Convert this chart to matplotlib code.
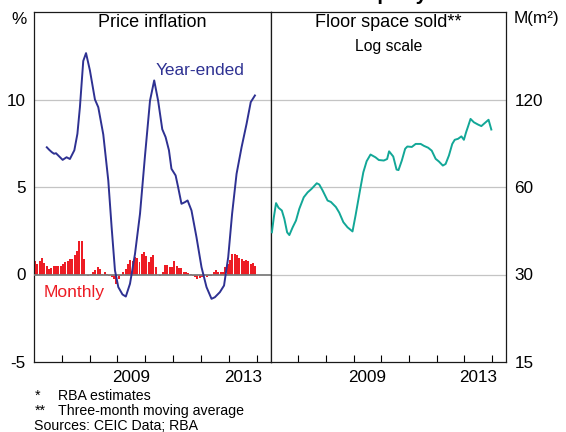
import numpy as np
import matplotlib
matplotlib.use('Agg')
import matplotlib.pyplot as plt
from matplotlib.ticker import FixedLocator, FixedFormatter, NullFormatter, NullLocator

plt.rcParams['font.family'] = ['Liberation Sans', 'DejaVu Sans']

NAVY = '#2e3192'
RED = '#ed1c24'
TEAL = '#12a797'
GRID = '#c4c4c4'

## Year-ended price inflation, % (decimal year, value)
ye_t = [2006.46, 2006.55, 2006.64, 2006.72, 2006.79, 2006.91, 2007.03, 2007.17, 2007.29,
        2007.45, 2007.56, 2007.65, 2007.77, 2007.87, 2008.01, 2008.19, 2008.31, 2008.49,
        2008.67, 2008.79, 2008.91, 2009.03, 2009.18, 2009.30, 2009.45, 2009.63, 2009.81,
        2009.99, 2010.17, 2010.32, 2010.46, 2010.61, 2010.73, 2010.85, 2010.94, 2011.09,
        2011.18, 2011.30, 2011.42, 2011.52, 2011.66, 2011.84, 2012.02, 2012.20, 2012.38,
        2012.50, 2012.68, 2012.83, 2012.98, 2013.12, 2013.28, 2013.46, 2013.64, 2013.79,
        2013.94]
ye_v = [7.27, 7.12, 6.99, 6.90, 6.93, 6.74, 6.55, 6.70, 6.60,
        7.10, 8.04, 9.56, 12.2, 12.65, 11.66, 10.0, 9.56, 8.0,
        5.37, 2.7, 0.23, -0.72, -1.14, -1.26, -0.53, 1.18, 3.47,
        6.8, 9.94, 11.09, 9.94, 8.3, 7.85, 7.1, 6.04, 5.66,
        4.99, 4.04, 4.13, 4.23, 3.66, 2.13, 0.42, -0.72, -1.39,
        -1.30, -1.01, -0.63, 0.99, 3.47, 5.75, 7.27, 8.61, 9.85,
        10.23]

## Monthly price inflation, %, Jan 2006 - Dec 2013
monthly = [0.8, 0.61, 0.8, 0.97, 0.65, 0.51, 0.32, 0.4, 0.48, 0.51, 0.46, 0.5,
           0.6, 0.74, 0.8, 0.9, 0.88, 1.12, 1.37, 1.89, 1.89, 0.9, -0.02, -0.06,
           0.04, 0.13, 0.23, 0.42, 0.29, 0.04, 0.13, 0.04, -0.06, -0.15, -0.25, -0.53,
           -0.25, -0.06, 0.13, 0.3, 0.6, 0.85, 0.8, 0.99, 0.93, 0.7, 1.18, 1.28,
           1.05, 0.72, 0.99, 1.14, 0.42, -0.02, -0.06, 0.13, 0.57, 0.57, 0.42, 0.42,
           0.76, 0.51, 0.38, 0.36, 0.17, 0.13, 0.08, 0.04, -0.06, -0.15, -0.25, -0.21,
           -0.15, -0.1, -0.15, -0.06, -0.06, 0.13, 0.23, 0.13, 0.13, 0.13, 0.42, 0.61,
           0.84, 1.2, 1.18, 1.12, 0.93, 0.9, 0.8, 0.84, 0.76, 0.61, 0.65, 0.46]
monthly_start = 2006

## Floor space sold, million m2 (three-month moving average)
floor_t = [2006.05, 2006.12, 2006.20, 2006.29, 2006.41, 2006.50, 2006.60, 2006.68, 2006.80,
           2006.92, 2007.04, 2007.20, 2007.34, 2007.48, 2007.67, 2007.76, 2007.88, 2008.06,
           2008.18, 2008.36, 2008.48, 2008.63, 2008.78, 2008.96, 2009.07, 2009.23, 2009.35,
           2009.47, 2009.61, 2009.79, 2009.91, 2010.09, 2010.21, 2010.28, 2010.43, 2010.55,
           2010.62, 2010.74, 2010.86, 2010.94, 2011.10, 2011.24, 2011.42, 2011.54, 2011.69,
           2011.82, 2011.96, 2012.08, 2012.22, 2012.32, 2012.44, 2012.56, 2012.65, 2012.77,
           2012.89, 2012.98, 2013.06, 2013.13, 2013.22, 2013.34, 2013.49, 2013.61, 2013.73,
           2013.87, 2013.97]
floor_v = [41.9, 47.2, 52.8, 50.9, 49.8, 46.6, 41.9, 41.0, 43.6,
           46.0, 50.5, 55.3, 57.5, 59.1, 61.8, 61.2, 58.4, 53.9,
           53.3, 51.2, 49.0, 45.4, 43.6, 42.2, 47.9, 58.4, 67.4,
           73.6, 77.6, 75.9, 74.3, 74.0, 74.9, 79.6, 76.4, 68.9,
           68.6, 74.0, 81.2, 82.7, 82.4, 84.4, 84.4, 83.1, 81.9,
           80.0, 75.0, 73.4, 71.1, 72.0, 77.0, 84.4, 87.2, 87.9,
           89.6, 87.2, 92.6, 96.9, 102.9, 100.2, 98.4, 97.2, 99.5,
           102.2, 94.6]

year_ticks = list(range(2007, 2015))
year_labels = ['2009', '2013']
left_ticks = [-5, 0, 5, 10]
right_ticks = [15, 30, 60, 120]

W, H = 566, 432
fig = plt.figure(figsize=(W / 100, H / 100), dpi=100)
bottom = 1 - 362 / H
height = 350 / H
ax1 = fig.add_axes([34 / W, bottom, 236.5 / W, height])
ax2 = fig.add_axes([270.5 / W, bottom, 235.5 / W, height])

## Left panel: price inflation
mx = monthly_start + np.arange(len(monthly)) / 12
ax1.bar(mx + 0.07 / 12, monthly, width=0.86 / 12, align='edge', color=RED, zorder=2)
for v in (5, 10):
    ax1.axhline(v, color=GRID, lw=0.9, zorder=1)
ax1.axhline(0, color='#7d7d7d', lw=1.3, zorder=3)
ax1.plot(ye_t, ye_v, color=NAVY, lw=1.4, zorder=4)
ax1.set_ylim(-5, 15)
ax1.yaxis.set_major_locator(FixedLocator(left_ticks))
ax1.yaxis.set_major_formatter(FixedFormatter([str(t) for t in left_ticks]))
ax1.text(2010.38, 11.4, 'Year-ended', color=NAVY, fontsize=12.4, va='baseline')
ax1.text(2006.36, -1.31, 'Monthly', color=RED, fontsize=12.6, va='baseline')
ax1.text(0.5, 0.971, 'Price inflation', transform=ax1.transAxes,
         ha='center', va='center', fontsize=13)

## Right panel: floor space, log scale
ax2.set_yscale('log', base=2)
for v in (30, 60, 120):
    ax2.axhline(v, color=GRID, lw=0.9, zorder=1)
ax2.plot(floor_t, floor_v, color=TEAL, lw=1.4, zorder=4)
ax2.set_ylim(15, 240)
ax2.yaxis.tick_right()
ax2.yaxis.set_major_locator(FixedLocator(right_ticks))
ax2.yaxis.set_major_formatter(FixedFormatter([str(t) for t in right_ticks]))
ax2.yaxis.set_minor_locator(NullLocator())
ax2.text(0.5, 0.971, 'Floor space sold**', transform=ax2.transAxes,
         ha='center', va='center', fontsize=13)
ax2.text(0.5, 0.9, 'Log scale', transform=ax2.transAxes,
         ha='center', va='center', fontsize=11.3)

for ax in (ax1, ax2):
    ax.set_xlim(2006, 2014.5)
    ax.xaxis.set_major_locator(FixedLocator(year_ticks))
    ax.xaxis.set_major_formatter(NullFormatter())
    ax.xaxis.set_minor_locator(FixedLocator([2009.5, 2013.5]))
    ax.xaxis.set_minor_formatter(FixedFormatter(year_labels))
    ax.tick_params(axis='x', which='major', direction='in', length=5, width=0.8, top=False)
    ax.tick_params(axis='x', which='minor', length=0, pad=6, labelsize=12.3)
    ax.tick_params(axis='y', which='both', length=0, pad=6, labelsize=12.3)
    for s in ax.spines.values():
        s.set_linewidth(0.9)
        s.set_color('#1a1a1a')

## Units and notes
fig.text(19 / W, 1 - 20 / H, '%', ha='center', va='center', fontsize=12.3)
fig.text(514 / W, 1 - 19 / H, 'M(m²)', ha='left', va='center', fontsize=12.3)
## title sits above the visible area, only its descenders show
fig.text(293 / W, 1.0, 'China – Residential Property*', ha='center',
         va='baseline', fontsize=14.7, fontweight='bold')
notes = [(396, '*', 'RBA estimates'), (411, '**', 'Three-month moving average')]
for y, mark, txt in notes:
    fig.text(35 / W, 1 - y / H, mark, va='center', fontsize=10.2)
    fig.text(58 / W, 1 - y / H, txt, va='center', fontsize=10.2)
fig.text(34 / W, 1 - 426 / H, 'Sources: CEIC Data; RBA', va='center', fontsize=10.2)

fig.savefig('out.png', dpi=100)
